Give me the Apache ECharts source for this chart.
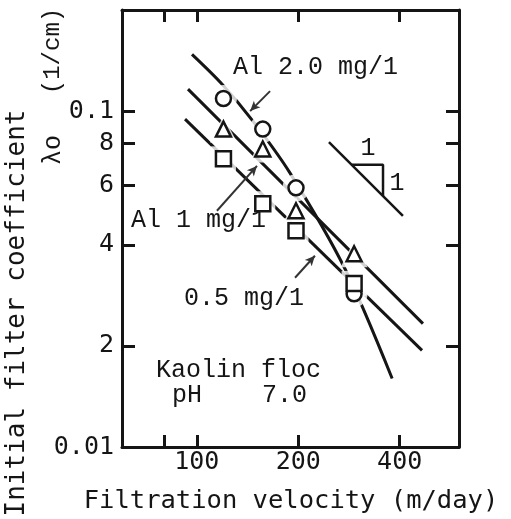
<!DOCTYPE html>
<html><head><meta charset="utf-8">
<script src="https://cdn.jsdelivr.net/npm/echarts@6/dist/echarts.min.js"></script>
<style>html,body{margin:0;padding:0;background:#fff}#c{width:511px;height:519px}</style>
</head><body><div id="c"></div>
<script>
// ---- data ----
const velocity = [120, 157, 197, 293];              // m/day
const lambdaAl20 = [0.109, 0.0884, 0.0591, 0.0286];  // circles, Al 2.0 mg/l
const lambdaAl10 = [0.0884, 0.0771, 0.0505, 0.0376]; // triangles, Al 1 mg/l
const lambdaAl05 = [0.0721, 0.053, 0.044, 0.0307];   // squares, Al 0.5 mg/l
const fitAl20 = [[96.8,0.1476],[118.9,0.1203],[146.8,0.0934],[189,0.0655],[275,0.034],[380,0.016]];
const fitAl10 = [[94.2,0.1163],[469,0.0233]];
const fitAl05 = [[92.3,0.0947],[466,0.0194]];
const slopeLine = [[246.7,0.0809],[409,0.0488]];
const slopeLegs = [[288.4,0.0692],[357,0.0692],[357,0.0559]];
const arrowAl20 = [[165,0.1147],[144,0.1]];
const arrowAl10 = [[114.8,0.0505],[150.9,0.0687]];
const arrowAl05 = [[195.7,0.0319],[224.2,0.0371]];
const xTickValues = [80, 100, 200, 400];
const xLabelValues = [100, 200, 400];
const xLabelTexts = ['100', '200', '400'];
const yTickValues = [0.02, 0.04, 0.06, 0.08, 0.1];
const yLabelValues = [0.01, 0.02, 0.04, 0.06, 0.08, 0.1];
const yLabelTexts = ['0.01', '2', '4', '6', '8', '0.1'];

const INK = '#151515';
const MONO = 'DejaVu Sans Mono';
const TYPE = 'Liberation Mono';
const zip = (xs, ys) => xs.map((x, i) => [x, ys[i]]);
const pick = (vals, texts) => v => {
  const i = vals.findIndex(t => Math.abs(t - v) / t < 1e-3);
  return i >= 0 ? texts[i] : '';
};

function xAxisDef(pos, labels) {
  return {
    type: 'log', logBase: 10, min: 60, max: 600, position: pos,
    axisLine: { show: true, onZero: false, lineStyle: { color: INK, width: 3 } },
    axisTick: { show: true, inside: true, length: 12, customValues: xTickValues, lineStyle: { color: INK, width: 3 } },
    minorTick: { show: false }, splitLine: { show: false },
    axisLabel: labels ? { show: true, customValues: xLabelValues, formatter: pick(xLabelValues, xLabelTexts),
      fontFamily: MONO, fontSize: 25, color: INK, margin: 3 } : { show: false }
  };
}
function yAxisDef(pos, labels) {
  return {
    type: 'log', logBase: 10, min: 0.01, max: 0.2, position: pos,
    axisLine: { show: true, onZero: false, lineStyle: { color: INK, width: 3 } },
    axisTick: { show: true, inside: true, length: 13, customValues: yTickValues, lineStyle: { color: INK, width: 3 } },
    minorTick: { show: false }, splitLine: { show: false },
    axisLabel: labels ? { show: true, customValues: yLabelValues, formatter: pick(yLabelValues, yLabelTexts),
      fontFamily: MONO, fontSize: 25, color: INK, margin: 8 } : { show: false }
  };
}

const lineS = (name, data, extra) => Object.assign({
  name, type: 'line', data, symbol: 'none', z: 2, silent: true, animation: false,
  lineStyle: { color: INK, width: 3 }
}, extra || {});
const halo = (shape, ys, size) => ({
  type: 'scatter', data: zip(velocity, ys), symbol: shape, symbolSize: size, z: 3, silent: true, animation: false,
  itemStyle: { color: '#fff', borderWidth: 0 }
});
const marks = (name, shape, ys) => ({
  name, type: 'scatter', data: zip(velocity, ys), symbol: shape, symbolSize: 15, z: 4, silent: true, animation: false,
  itemStyle: { color: '#fff', borderColor: INK, borderWidth: 2.5, opacity: 1 }
});
const arrowData = a => [{ coord: a[0] }, { coord: a[1] }];

const option = {
  backgroundColor: '#fff',
  animation: false,
  grid: { left: 122, right: 52, top: 10, bottom: 72, containLabel: false },
  xAxis: [xAxisDef('bottom', true), xAxisDef('top', false)],
  yAxis: [yAxisDef('left', true), yAxisDef('right', false)],
  series: [
    lineS('fit 2.0', fitAl20, { smooth: 0.3 }),
    lineS('fit 1.0', fitAl10),
    lineS('fit 0.5', fitAl05),
    lineS('slope', slopeLine, { lineStyle: { color: INK, width: 2.5 } }),
    lineS('slope legs', slopeLegs, { lineStyle: { color: INK, width: 2.5 } }),
    halo('circle', lambdaAl20, 27),
    halo('triangle', lambdaAl10, 27),
    halo('rect', lambdaAl05, 25),
    marks('Al 2.0 mg/l', 'circle', lambdaAl20),
    marks('Al 1 mg/l', 'triangle', lambdaAl10),
    marks('Al 0.5 mg/l', 'rect', lambdaAl05),
    {
      type: 'line', data: [], z: 5, silent: true, animation: false,
      markLine: {
        silent: true, animation: false, symbol: ['none', 'arrow'], symbolSize: [7, 10], precision: 6,
        label: { show: false },
        lineStyle: { color: '#333', width: 2, type: 'solid' },
        data: [arrowData(arrowAl20), arrowData(arrowAl10), arrowData(arrowAl05)]
      }
    }
  ],
  graphic: [
    { type: 'text', x: 17, y: 313, rotation: Math.PI / 2, z: 10,
      style: { text: 'Initial filter coefficient', font: '26px "' + MONO + '"', fill: INK, align: 'center', verticalAlign: 'middle' } },
    { type: 'text', x: 53, y: 51, rotation: Math.PI / 2, z: 10,
      style: { text: '(1/cm)', font: '24px "' + TYPE + '"', fill: INK, align: 'center', verticalAlign: 'middle' } },
    { type: 'text', x: 53, y: 150, rotation: Math.PI / 2, z: 10,
      style: { text: 'λo', font: '25px "' + TYPE + '"', fill: INK, align: 'center', verticalAlign: 'middle' } },
    { type: 'text', x: 291, y: 501, z: 10,
      style: { text: 'Filtration velocity (m/day)', font: '25.5px "' + MONO + '"', fill: INK, align: 'center', verticalAlign: 'middle' } },
    { type: 'text', x: 233, y: 67, z: 10,
      style: { text: 'Al 2.0 mg/1', font: '25px "' + TYPE + '"', fill: INK, align: 'left', verticalAlign: 'middle' } },
    { type: 'text', x: 131, y: 220, z: 10,
      style: { text: 'Al 1 mg/1', font: '25px "' + TYPE + '"', fill: INK, align: 'left', verticalAlign: 'middle' } },
    { type: 'text', x: 184, y: 298, z: 10,
      style: { text: '0.5 mg/1', font: '25px "' + TYPE + '"', fill: INK, align: 'left', verticalAlign: 'middle' } },
    { type: 'text', x: 156, y: 370, z: 10,
      style: { text: 'Kaolin floc', font: '25px "' + TYPE + '"', fill: INK, align: 'left', verticalAlign: 'middle' } },
    { type: 'text', x: 172, y: 395, z: 10,
      style: { text: 'pH    7.0', font: '25px "' + TYPE + '"', fill: INK, align: 'left', verticalAlign: 'middle' } },
    { type: 'text', x: 368, y: 148, z: 10,
      style: { text: '1', font: '25px "' + TYPE + '"', fill: INK, align: 'center', verticalAlign: 'middle' } },
    { type: 'text', x: 397, y: 183, z: 10,
      style: { text: '1', font: '25px "' + TYPE + '"', fill: INK, align: 'center', verticalAlign: 'middle' } }
  ]
};

const chart = echarts.init(document.getElementById('c'), null, { renderer: 'canvas' });
chart.setOption(option);
</script>
</body></html>
